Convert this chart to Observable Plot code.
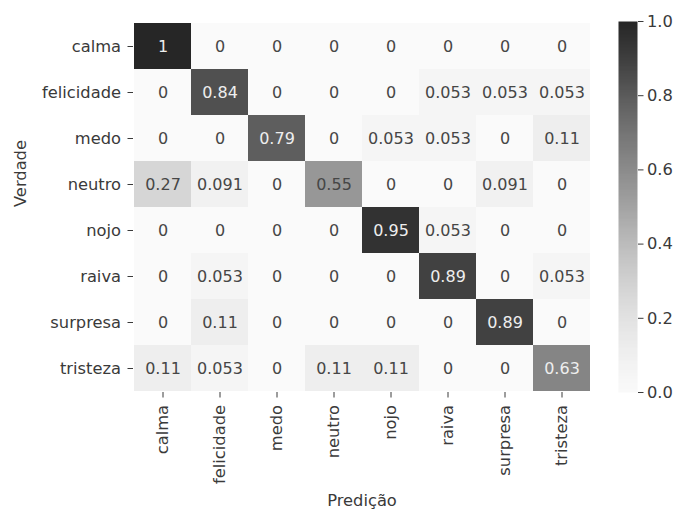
<!DOCTYPE html>
<html>
<head>
<meta charset="utf-8">
<script src="https://cdn.jsdelivr.net/npm/d3@7"></script>
<script src="https://cdn.jsdelivr.net/npm/@observablehq/plot@0.6"></script>
<style>
  html, body { margin: 0; padding: 0; background: #fff; }
  #wrap { position: relative; width: 676px; height: 511px; }
  #wrap svg { position: absolute; top: 0; overflow: visible; }
</style>
</head>
<body>
<div id="wrap"></div>
<script>
const classes = ["calma", "felicidade", "medo", "neutro", "nojo", "raiva", "surpresa", "tristeza"];
const rowCalma      = [1, 0, 0, 0, 0, 0, 0, 0];
const rowFelicidade = [0, 0.84, 0, 0, 0, 0.053, 0.053, 0.053];
const rowMedo       = [0, 0, 0.79, 0, 0.053, 0.053, 0, 0.11];
const rowNeutro     = [0.27, 0.091, 0, 0.55, 0, 0, 0.091, 0];
const rowNojo       = [0, 0, 0, 0, 0.95, 0.053, 0, 0];
const rowRaiva      = [0, 0.053, 0, 0, 0, 0.89, 0, 0.053];
const rowSurpresa   = [0, 0.11, 0, 0, 0, 0, 0.89, 0];
const rowTristeza   = [0.11, 0.053, 0, 0.11, 0.11, 0, 0, 0.63];
const colorbarTicks = [0, 0.2, 0.4, 0.6, 0.8, 1.0];
const xLabel = "Predição";
const yLabel = "Verdade";

const matrix = [rowCalma, rowFelicidade, rowMedo, rowNeutro, rowNojo, rowRaiva, rowSurpresa, rowTristeza];
const cells = [];
matrix.forEach((row, i) => row.forEach((v, j) => cells.push({truth: classes[i], pred: classes[j], value: v})));

// Greys colormap, compressed to the tonal range seen in the picture
const interp = t => {
  const c = d3.rgb(d3.interpolateGreys(t));
  const g = Math.round(38 + c.r * (250 - 38) / 255);
  return d3.rgb(g, g, g).formatHex();
};
const colorScale = {type: "linear", domain: [0, 1], interpolate: () => interp};
const fmt = d3.format(".2~g");
const textColor = v => (d3.rgb(interp(v)).r < 150 ? "#eeeeee" : "#464646");

const W = 676, H = 511;
const mT = 21, mB = 119, mL = 133, mR = 86;
const font = "DejaVu Sans, sans-serif";
const fsz = 16.3;

const main = Plot.plot({
  width: W, height: H,
  marginTop: mT, marginBottom: mB, marginLeft: mL, marginRight: mR,
  style: {fontFamily: font, fontSize: fsz + "px", color: "#3a3a3a", background: "transparent"},
  x: {domain: classes, padding: 0, label: null},
  y: {domain: classes, padding: 0, label: null},
  color: colorScale,
  marks: [
    Plot.cell(cells, {x: "pred", y: "truth", fill: "value", inset: 0}),
    Plot.text(cells, {x: "pred", y: "truth", text: d => fmt(d.value), fill: d => textColor(d.value), fontSize: 16}),
    Plot.axisX({anchor: "bottom", tickSize: 5.5, tickPadding: 7, tickRotate: -90, label: null, fontSize: fsz}),
    Plot.axisY({anchor: "left", tickSize: 5.5, tickPadding: 7, label: null, fontSize: fsz}),
    Plot.text([xLabel], {frameAnchor: "bottom", dy: 108, text: d => d, fontSize: fsz, lineAnchor: "middle", fill: "#3a3a3a"}),
    Plot.text([yLabel], {frameAnchor: "left", dx: -113, rotate: -90, text: d => d, fontSize: fsz, lineAnchor: "middle", fill: "#3a3a3a"})
  ]
});
main.style.left = "0px";
document.getElementById("wrap").appendChild(main);

const cbLeft = 618, cbWidth = 19;
const cb = Plot.plot({
  width: W - cbLeft, height: H,
  marginTop: mT, marginBottom: mB, marginLeft: 0, marginRight: W - cbLeft - cbWidth,
  style: {fontFamily: font, fontSize: fsz + "px", color: "#3a3a3a", background: "transparent"},
  x: {domain: [0, 1], axis: null},
  y: {domain: [0, 1], axis: null},
  color: colorScale,
  marks: [
    Plot.raster({x1: 0, x2: 1, y1: 0, y2: 1, width: 1, height: 256, fill: (x, y) => y, imageRendering: "auto"}),
    Plot.axisY(colorbarTicks, {anchor: "right", tickSize: 5.5, tickPadding: 4, tickFormat: d3.format(".1f"), label: null, fontSize: fsz})
  ]
});
cb.style.left = cbLeft + "px";
document.getElementById("wrap").appendChild(cb);
</script>
</body>
</html>
